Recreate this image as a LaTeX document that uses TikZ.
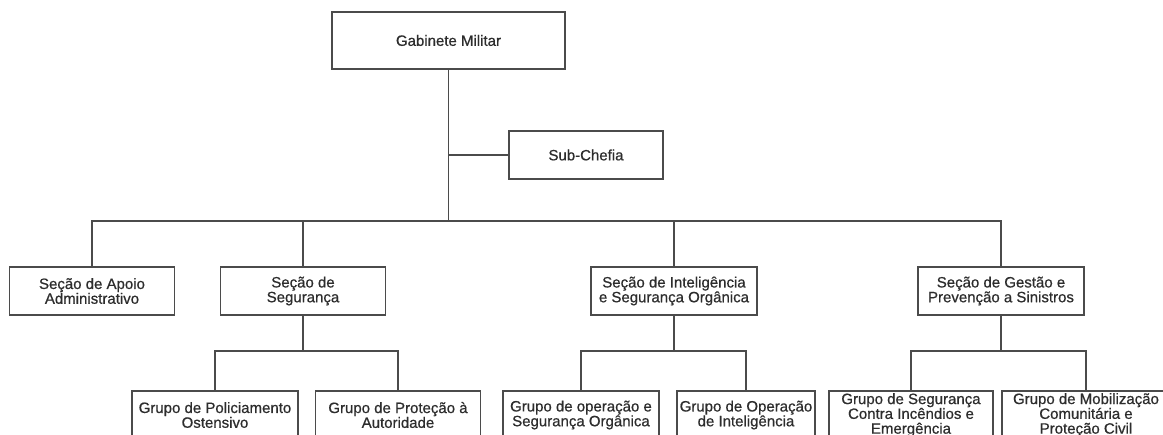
\documentclass[tikz,border=0pt]{standalone}
\usepackage{fontspec}
\setmainfont{Liberation Sans}
\newfontfamily\boxfont[FakeBold=0.6]{Liberation Sans}
\definecolor{lc}{RGB}{75,75,75}
\definecolor{tc}{RGB}{45,45,45}
\begin{document}
\begin{tikzpicture}[x=1pt,y=1pt,
  box/.style={draw=lc, line width=1.7pt, fill=white, minimum height=48pt, inner sep=0pt, align=center,
    text=tc, font=\boxfont\fontsize{15}{14.8}\selectfont},
  conn/.style={draw=lc, line width=1.7pt}]
\useasboundingbox (0,0) rectangle (1163,-435);
\fill[white] (0,0) rectangle (1163,-435);
\begin{scope}
\clip (0,0) rectangle (1163,-435);
% top
\node[box, minimum width=233pt, minimum height=57pt] (gm) at (448.5,-40.5) {Gabinete Militar};
\node[box, minimum width=154pt] (sc) at (586,-155) {Sub-Chefia};
% level 2
\node[box, minimum width=165pt] (apoio) at (92,-291) {Seção de Apoio\\Administrativo};
\node[box, minimum width=165pt] (seg) at (303,-291) {Seção de\\Segurança};
\node[box, minimum width=166pt] (intel) at (674,-291) {Seção de Inteligência\\e Segurança Orgânica};
\node[box, minimum width=166pt] (gest) at (1001,-291) {Seção de Gestão e\\Prevenção a Sinistros};
% level 3
\node[box, minimum width=166pt] (pol) at (215,-415) {Grupo de Policiamento\\Ostensivo};
\node[box, minimum width=165pt] (prot) at (398,-415) {Grupo de Proteção à\\Autoridade};
\node[box, minimum width=156pt] (opseg) at (581,-415) {Grupo de operação e\\Segurança Orgânica};
\node[box, minimum width=138pt] (opint) at (746,-415) {Grupo de Operação\\de Inteligência};
\node[box, minimum width=164pt] (inc) at (911,-415) {Grupo de Segurança\\Contra Incêndios e\\Emergência};
\node[box, minimum width=168pt] (mob) at (1086,-415) {Grupo de Mobilização\\Comunitária e\\Proteção Civil};
% coordinates
\coordinate (bus) at (448.5,-221);
\coordinate (b1) at (303,-351);
\coordinate (b2) at (674,-351);
\coordinate (b3) at (1001,-351);
% connectors
\draw[conn] (gm.south) -- (bus);
\draw[conn] (sc.west) -- (sc.west -| gm.south);
\draw[conn] (apoio.north) |- (bus) -| (gest.north);
\draw[conn] (seg.north) -- (seg.north |- bus);
\draw[conn] (intel.north) -- (intel.north |- bus);
\draw[conn] (seg.south) -- (b1);
\draw[conn] (pol.north) |- (b1) -| (prot.north);
\draw[conn] (intel.south) -- (b2);
\draw[conn] (opseg.north) |- (b2) -| (opint.north);
\draw[conn] (gest.south) -- (b3);
\draw[conn] (inc.north) |- (b3) -| (mob.north);
\end{scope}
\end{tikzpicture}
\end{document}
